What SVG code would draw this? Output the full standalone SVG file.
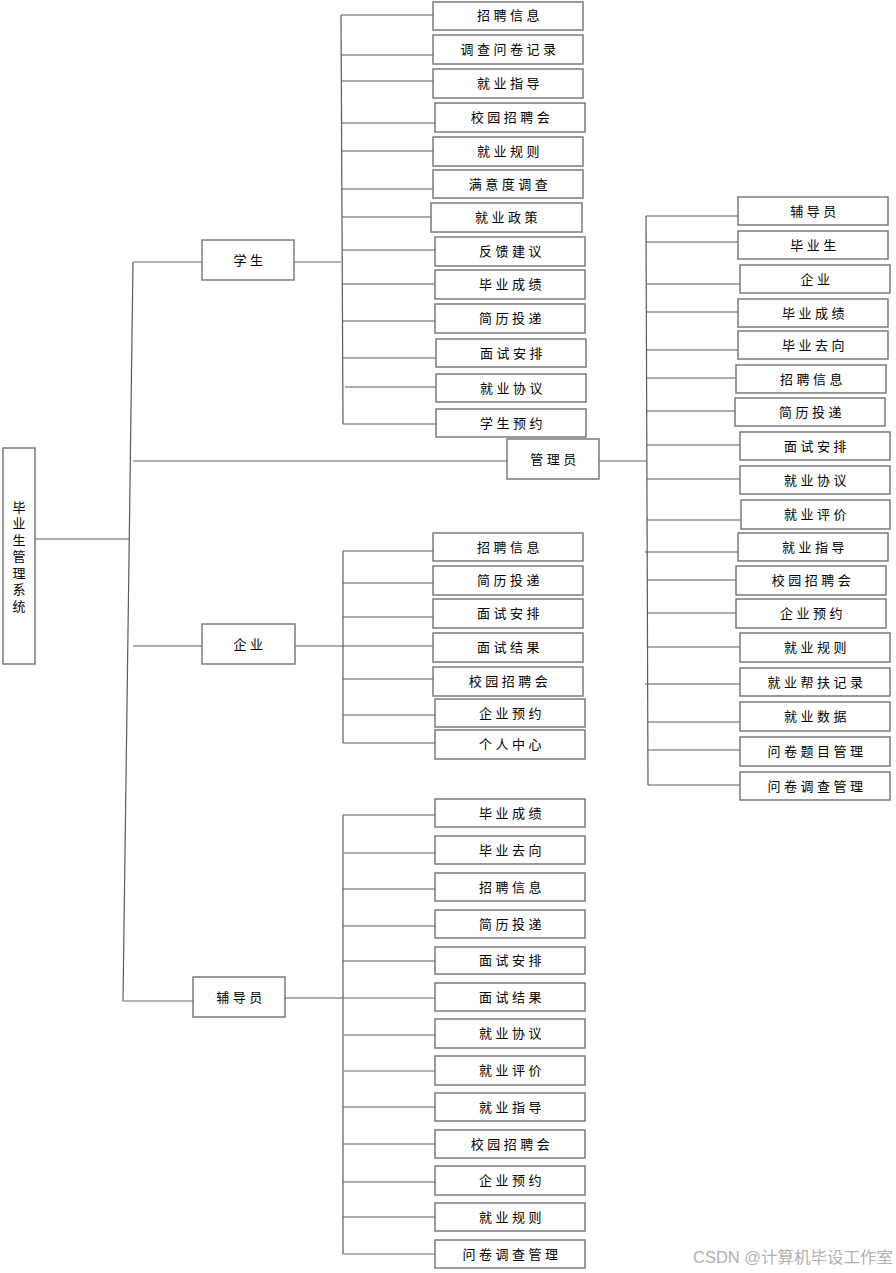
<svg xmlns="http://www.w3.org/2000/svg" width="896" height="1273" viewBox="0 0 896 1273">
<style>
.n rect{fill:#fff;stroke:#707070;stroke-width:1.4}
.n text{font-family:"Noto Sans CJK SC","Liberation Sans",sans-serif;font-size:13px;letter-spacing:3.5px;text-anchor:middle;dominant-baseline:central;fill:#000;transform:translateY(-1.5px)}
.c line{stroke:#5a5a5a;stroke-width:1.2}
.c .l{stroke:#9a9a9a;stroke-width:1.6}
.wm{font-family:"Liberation Sans","Noto Sans CJK SC",sans-serif;font-size:16px;fill:#b0b0b0}
</style>
<rect width="896" height="1273" fill="#fff"/>
<g class="c" id="connectors">
<line x1="35" y1="539" x2="130" y2="539"/>
<line x1="133" y1="262" x2="123" y2="1001"/>
<line class="l" x1="133" y1="262" x2="202" y2="262"/>
<line class="l" x1="133" y1="461" x2="507" y2="461"/>
<line x1="133" y1="646" x2="202" y2="646"/>
<line class="l" x1="123" y1="1001" x2="193" y2="1001"/>
<line class="l" x1="294" y1="262" x2="341" y2="262"/>
<line x1="341" y1="15" x2="343" y2="424"/>
<line x1="341" y1="15" x2="433" y2="15"/>
<line x1="341" y1="55" x2="433" y2="55"/>
<line x1="341" y1="81" x2="433" y2="81"/>
<line x1="341" y1="123" x2="435" y2="123"/>
<line x1="341" y1="151" x2="433" y2="151"/>
<line x1="341" y1="189" x2="433" y2="189"/>
<line x1="342" y1="217" x2="431" y2="217"/>
<line x1="342" y1="250" x2="435" y2="250"/>
<line x1="342" y1="284" x2="435" y2="284"/>
<line x1="342" y1="321" x2="435" y2="321"/>
<line x1="342" y1="358" x2="436" y2="358"/>
<line x1="345" y1="387" x2="436" y2="387"/>
<line x1="343" y1="424" x2="436" y2="424"/>
<line class="l" x1="599" y1="461" x2="646" y2="461"/>
<line x1="646" y1="216" x2="648" y2="785"/>
<line x1="646" y1="216" x2="738" y2="216"/>
<line x1="646" y1="242" x2="738" y2="242"/>
<line x1="646" y1="284" x2="740" y2="284"/>
<line x1="646" y1="312" x2="738" y2="312"/>
<line x1="646" y1="350" x2="738" y2="350"/>
<line x1="646" y1="378" x2="736" y2="378"/>
<line x1="646" y1="411" x2="735" y2="411"/>
<line x1="647" y1="445" x2="740" y2="445"/>
<line x1="647" y1="479" x2="740" y2="479"/>
<line x1="647" y1="520" x2="741" y2="520"/>
<line x1="645" y1="552" x2="738" y2="552"/>
<line x1="647" y1="580" x2="736" y2="580"/>
<line x1="647" y1="613" x2="736" y2="613"/>
<line x1="647" y1="647" x2="740" y2="647"/>
<line x1="645" y1="684" x2="740" y2="684"/>
<line x1="648" y1="722" x2="740" y2="722"/>
<line x1="648" y1="750" x2="740" y2="750"/>
<line x1="648" y1="785" x2="740" y2="785"/>
<line x1="295" y1="646" x2="343" y2="646"/>
<line x1="343" y1="551" x2="343" y2="743"/>
<line x1="343" y1="551" x2="433" y2="551"/>
<line x1="343" y1="583" x2="433" y2="583"/>
<line x1="343" y1="617" x2="433" y2="617"/>
<line x1="343" y1="646" x2="433" y2="646"/>
<line x1="343" y1="679" x2="433" y2="679"/>
<line x1="343" y1="715" x2="435" y2="715"/>
<line x1="343" y1="743" x2="435" y2="743"/>
<line x1="285" y1="998" x2="343" y2="998"/>
<line x1="343" y1="815" x2="343" y2="1254"/>
<line x1="343" y1="815" x2="435" y2="815"/>
<line class="l" x1="343" y1="853" x2="435" y2="853"/>
<line x1="343" y1="889" x2="435" y2="889"/>
<line x1="343" y1="926" x2="435" y2="926"/>
<line x1="343" y1="961" x2="435" y2="961"/>
<line class="l" x1="343" y1="998" x2="435" y2="998"/>
<line class="l" x1="343" y1="1035" x2="435" y2="1035"/>
<line class="l" x1="343" y1="1071" x2="435" y2="1071"/>
<line x1="343" y1="1107" x2="435" y2="1107"/>
<line x1="343" y1="1144" x2="435" y2="1144"/>
<line x1="343" y1="1182" x2="435" y2="1182"/>
<line x1="343" y1="1217" x2="435" y2="1217"/>
<line class="l" x1="343" y1="1254" x2="435" y2="1254"/>
</g>
<g class="n" id="root"><rect x="3" y="448" width="32" height="216"/><text x="19" y="507" style="letter-spacing:0"><tspan x="19" y="507">毕</tspan><tspan x="19" y="523.5">业</tspan><tspan x="19" y="540">生</tspan><tspan x="19" y="556.5">管</tspan><tspan x="19" y="573">理</tspan><tspan x="19" y="589.5">系</tspan><tspan x="19" y="606">统</tspan></text></g>
<g class="n" id="student"><rect x="202" y="240" width="92" height="40"/><text x="250" y="261">学生</text></g>
<g class="n" id="admin"><rect x="507" y="439" width="92" height="40"/><text x="555" y="460">管理员</text></g>
<g class="n" id="enterprise"><rect x="202" y="624" width="93" height="40"/><text x="250" y="645">企业</text></g>
<g class="n" id="counselor"><rect x="193" y="977" width="92" height="40"/><text x="241" y="998">辅导员</text></g>
<g class="n" id="s1"><rect x="433" y="2" width="150" height="28"/><text x="510" y="16">招聘信息</text></g>
<g class="n" id="s2"><rect x="433" y="35" width="150" height="29"/><text x="510" y="50">调查问卷记录</text></g>
<g class="n" id="s3"><rect x="433" y="69" width="150" height="29"/><text x="510" y="84">就业指导</text></g>
<g class="n" id="s4"><rect x="435" y="103" width="150" height="29"/><text x="512" y="118">校园招聘会</text></g>
<g class="n" id="s5"><rect x="433" y="137" width="150" height="29"/><text x="510" y="152">就业规则</text></g>
<g class="n" id="s6"><rect x="433" y="170" width="150" height="28"/><text x="510" y="185">满意度调查</text></g>
<g class="n" id="s7"><rect x="431" y="203" width="151" height="29"/><text x="508" y="218">就业政策</text></g>
<g class="n" id="s8"><rect x="435" y="237" width="150" height="29"/><text x="512" y="252">反馈建议</text></g>
<g class="n" id="s9"><rect x="435" y="270" width="150" height="29"/><text x="512" y="285">毕业成绩</text></g>
<g class="n" id="s10"><rect x="435" y="304" width="150" height="29"/><text x="512" y="319">简历投递</text></g>
<g class="n" id="s11"><rect x="436" y="339" width="150" height="28"/><text x="513" y="354">面试安排</text></g>
<g class="n" id="s12"><rect x="436" y="374" width="150" height="28"/><text x="513" y="389">就业协议</text></g>
<g class="n" id="s13"><rect x="436" y="409" width="150" height="28"/><text x="513" y="424">学生预约</text></g>
<g class="n" id="a1"><rect x="738" y="197" width="150" height="28"/><text x="815" y="212">辅导员</text></g>
<g class="n" id="a2"><rect x="738" y="231" width="150" height="28"/><text x="815" y="246">毕业生</text></g>
<g class="n" id="a3"><rect x="740" y="265" width="150" height="28"/><text x="817" y="280">企业</text></g>
<g class="n" id="a4"><rect x="738" y="299" width="150" height="28"/><text x="815" y="314">毕业成绩</text></g>
<g class="n" id="a5"><rect x="738" y="331" width="150" height="28"/><text x="815" y="346">毕业去向</text></g>
<g class="n" id="a6"><rect x="736" y="365" width="150" height="28"/><text x="813" y="380">招聘信息</text></g>
<g class="n" id="a7"><rect x="735" y="398" width="150" height="28"/><text x="812" y="413">简历投递</text></g>
<g class="n" id="a8"><rect x="740" y="432" width="150" height="28"/><text x="817" y="447">面试安排</text></g>
<g class="n" id="a9"><rect x="740" y="466" width="150" height="28"/><text x="817" y="481">就业协议</text></g>
<g class="n" id="a10"><rect x="741" y="500" width="149" height="29"/><text x="817" y="515">就业评价</text></g>
<g class="n" id="a11"><rect x="738" y="533" width="150" height="28"/><text x="815" y="548">就业指导</text></g>
<g class="n" id="a12"><rect x="736" y="566" width="150" height="29"/><text x="813" y="581">校园招聘会</text></g>
<g class="n" id="a13"><rect x="736" y="599" width="150" height="29"/><text x="813" y="614">企业预约</text></g>
<g class="n" id="a14"><rect x="740" y="633" width="150" height="29"/><text x="817" y="648">就业规则</text></g>
<g class="n" id="a15"><rect x="740" y="668" width="150" height="28"/><text x="817" y="683">就业帮扶记录</text></g>
<g class="n" id="a16"><rect x="740" y="702" width="150" height="29"/><text x="817" y="717">就业数据</text></g>
<g class="n" id="a17"><rect x="740" y="737" width="150" height="29"/><text x="817" y="752">问卷题目管理</text></g>
<g class="n" id="a18"><rect x="740" y="772" width="150" height="28"/><text x="817" y="787">问卷调查管理</text></g>
<g class="n" id="e1"><rect x="433" y="533" width="150" height="28"/><text x="510" y="548">招聘信息</text></g>
<g class="n" id="e2"><rect x="433" y="566" width="150" height="29"/><text x="510" y="581">简历投递</text></g>
<g class="n" id="e3"><rect x="433" y="599" width="150" height="29"/><text x="510" y="614">面试安排</text></g>
<g class="n" id="e4"><rect x="433" y="633" width="150" height="29"/><text x="510" y="648">面试结果</text></g>
<g class="n" id="e5"><rect x="433" y="667" width="150" height="29"/><text x="510" y="682">校园招聘会</text></g>
<g class="n" id="e6"><rect x="435" y="699" width="150" height="28"/><text x="512" y="714">企业预约</text></g>
<g class="n" id="e7"><rect x="435" y="730" width="150" height="29"/><text x="512" y="745">个人中心</text></g>
<g class="n" id="f1"><rect x="435" y="799" width="150" height="28"/><text x="512" y="814">毕业成绩</text></g>
<g class="n" id="f2"><rect x="435" y="836" width="150" height="28"/><text x="512" y="851">毕业去向</text></g>
<g class="n" id="f3"><rect x="435" y="873" width="150" height="28"/><text x="512" y="888">招聘信息</text></g>
<g class="n" id="f4"><rect x="435" y="910" width="150" height="28"/><text x="512" y="925">简历投递</text></g>
<g class="n" id="f5"><rect x="435" y="947" width="150" height="27"/><text x="512" y="961">面试安排</text></g>
<g class="n" id="f6"><rect x="435" y="983" width="150" height="28"/><text x="512" y="998">面试结果</text></g>
<g class="n" id="f7"><rect x="435" y="1019" width="150" height="29"/><text x="512" y="1034">就业协议</text></g>
<g class="n" id="f8"><rect x="435" y="1056" width="150" height="29"/><text x="512" y="1071">就业评价</text></g>
<g class="n" id="f9"><rect x="435" y="1093" width="150" height="28"/><text x="512" y="1108">就业指导</text></g>
<g class="n" id="f10"><rect x="435" y="1130" width="150" height="28"/><text x="512" y="1145">校园招聘会</text></g>
<g class="n" id="f11"><rect x="435" y="1166" width="150" height="29"/><text x="512" y="1181">企业预约</text></g>
<g class="n" id="f12"><rect x="435" y="1203" width="150" height="28"/><text x="512" y="1218">就业规则</text></g>
<g class="n" id="f13"><rect x="435" y="1240" width="150" height="28"/><text x="512" y="1255">问卷调查管理</text></g>
<text class="wm" x="693" y="1263" textLength="200" lengthAdjust="spacingAndGlyphs">CSDN @计算机毕设工作室</text>
</svg>
